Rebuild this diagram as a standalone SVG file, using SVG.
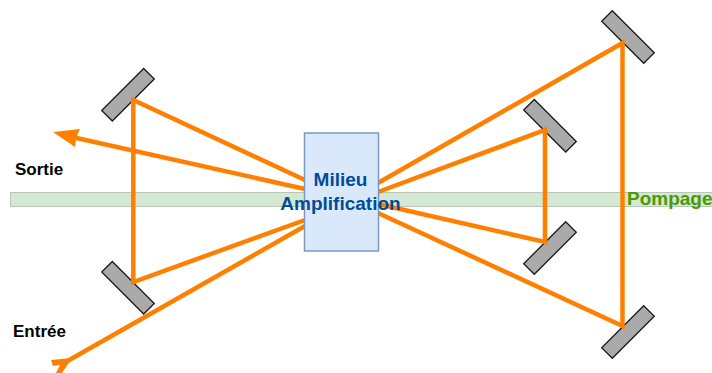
<svg xmlns="http://www.w3.org/2000/svg" width="712" height="373" viewBox="0 0 712 373">
<style>
.m{fill:#aaaaaa;stroke:#1a1a1a;stroke-width:1.3}
.b{fill:none;stroke:#ff8000;stroke-width:4.5}
text{font-family:"Liberation Sans",Arial,sans-serif;font-weight:bold}
</style>
<rect width="712" height="373" fill="#ffffff"/>
<g id="pump"><rect x="10.5" y="192.5" width="702" height="14" fill="#d5e8d4" stroke="#b9c7b8"/></g>
<g id="m1"><polygon class="m" points="143.7,68.5 154.3,79 112.3,121 101.7,110.5"/></g>
<g id="m2"><polygon class="m" points="112.3,261.5 154.3,303.5 143.7,314 101.7,272"/></g>
<g id="m3"><polygon class="m" points="612.3,10.7 654.3,52.7 643.7,63.3 601.7,21.3"/></g>
<g id="m4"><polygon class="m" points="534.3,99.5 576.3,141.5 565.7,152 523.7,110"/></g>
<g id="m5"><polygon class="m" points="565.7,221.7 576.3,232.3 534.3,274.3 523.7,263.7"/></g>
<g id="m6"><polygon class="m" points="643.7,305.7 654.3,316.3 612.3,358.3 601.7,347.7"/></g>
<g id="connectors">
<path class="b" d="M305 180L133.3 100V282L305 220"/>
<path class="b" d="M305 189L72 137"/>
<path class="b" d="M305 226L64 363"/>
<path class="b" d="M378 183L622.5 43V326L378 213"/>
<path class="b" d="M378 192L545 130V242L378 204"/>
<polygon points="53,132 80,129 76,138 75,147" fill="#ff8000"/>
<polygon points="72,358 51,360 53,366 60,365 56,373 62,373" fill="#ff8000"/>
</g>
<g id="box"><rect x="304.5" y="133" width="74" height="118" fill="#dae8fc" stroke="#7c98bf" stroke-width="1.5"/></g>
<g id="labels">
<text x="340.5" y="186" font-size="19" fill="#004c99" text-anchor="middle">Milieu</text>
<text x="340.5" y="210" font-size="19" fill="#004c99" text-anchor="middle">Amplification</text>
<text x="15" y="175" font-size="17" fill="#000">Sortie</text>
<text x="13" y="337" font-size="17" fill="#000">Entrée</text>
<text x="627" y="205" font-size="19" fill="#4d9900">Pompage</text>
</g>
</svg>
